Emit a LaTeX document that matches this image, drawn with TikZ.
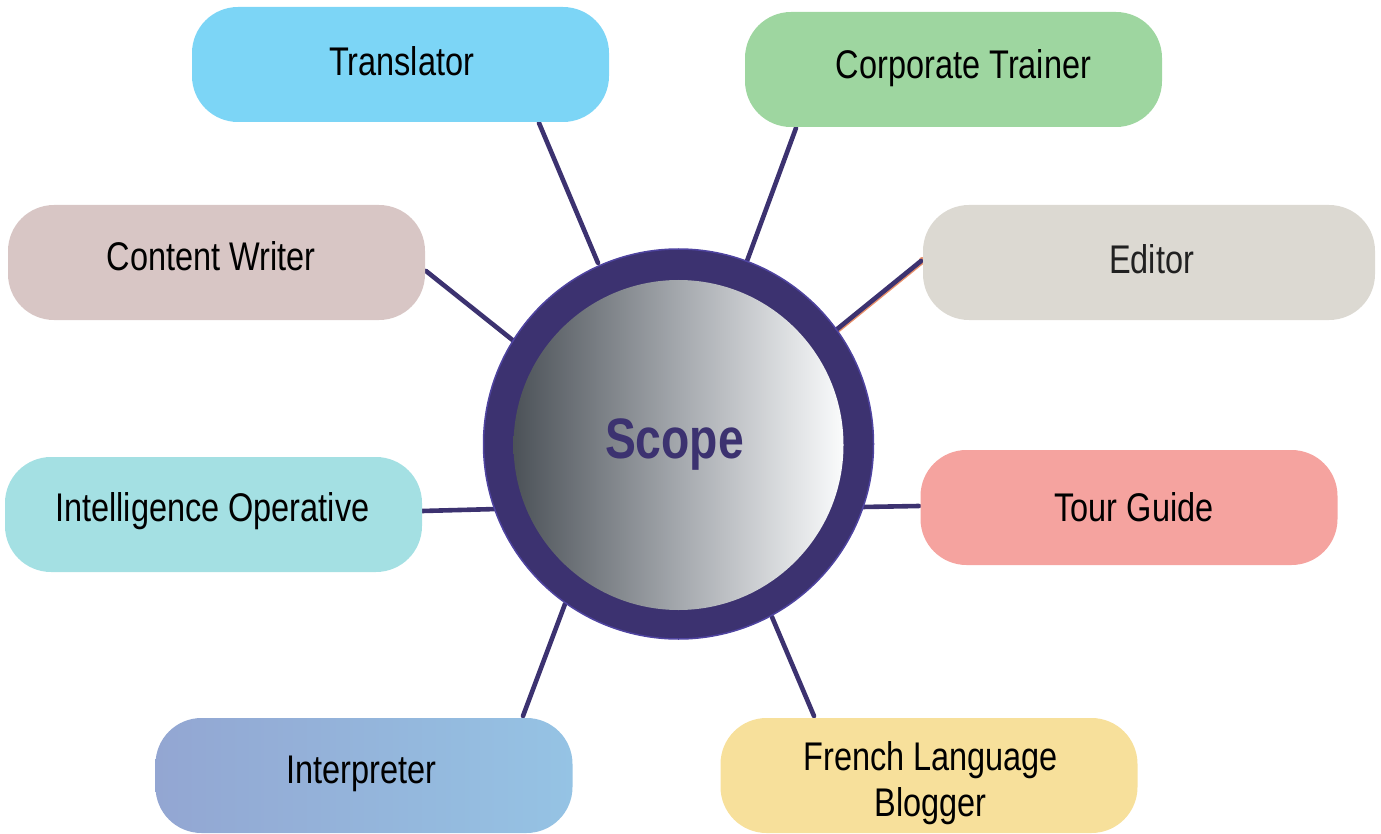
\documentclass[tikz,border=0pt]{standalone}
\usepackage{fontspec}
\setmainfont{Liberation Sans}[FakeStretch=0.812]
\usetikzlibrary{backgrounds}
\definecolor{ink}{HTML}{3C3270}
\definecolor{ringedge}{HTML}{4F44A0}
\definecolor{cTrans}{HTML}{7CD5F6}
\definecolor{cCorp}{HTML}{9ED6A0}
\definecolor{cCont}{HTML}{D8C6C5}
\definecolor{cEdit}{HTML}{DCD9D2}
\definecolor{cIntel}{HTML}{A4E0E3}
\definecolor{cTour}{HTML}{F5A39F}
\definecolor{cInterL}{HTML}{93A6D2}
\definecolor{cInterR}{HTML}{95C3E4}
\definecolor{cBlog}{HTML}{F7E09B}
\definecolor{coreL}{HTML}{4C5258}
\definecolor{coreM}{HTML}{A4A8AD}
\definecolor{coreR}{HTML}{FAFBFC}
\definecolor{spark}{HTML}{E8906A}
\begin{document}
\begin{tikzpicture}[x=1pt,y=-1pt,
  box/.style={rectangle, rounded corners=46pt, minimum width=417pt, minimum height=115pt, inner sep=0pt},
  lab/.style={anchor=base, inner sep=0pt, font=\fontsize{40}{46.7}\selectfont, text=black, align=center},
  link/.style={draw=ink, line width=4.6pt, line cap=round}]
\useasboundingbox (0,0) rectangle (1381,834);

% boxes
\node[box, fill=cTrans] (tr) at (400.5,64.5) {};
\node[box, fill=cCorp] (ct) at (953.5,69.5) {};
\node[box, fill=cCont] (cw) at (216.5,262.5) {};
\node[box, fill=cEdit, minimum width=452pt] (ed) at (1149,262.5) {};
\node[box, fill=cIntel] (io) at (213.5,514.5) {};
\node[box, fill=cTour] (tg) at (1129,507.5) {};
\node[box, left color=cInterL, right color=cInterR] (ip) at (364,775.5) {};
\node[box, fill=cBlog] (fb) at (929,775.5) {};

% labels
\node[lab] (trL) at (401.5,76) {Translator};
\node[lab] (ctL) at (963.5,79) {Corporate Trainer};
\node[lab] (cwL) at (211,270.7) {Content Writer};
\node[lab, text=black!87] (edL) at (1151.5,274) {Editor};
\node[lab] (ioL) at (212.3,521.7) {Intelligence Operative};
\node[lab] (tgL) at (1134,521) {Tour Guide};
\node[lab] (ipL) at (361.7,783.3) {Interpreter};
\node[lab] (fbL1) at (930.8,770) {French Language};
\node[lab] (fbL2) at (930.8,816.7) {Blogger};

% centre
\node[circle, minimum size=390pt, inner sep=0pt, fill=ink, draw=ringedge, line width=1.5pt] (scope) at (678.5,444) {};
\node[circle, minimum size=330pt, inner sep=0pt, left color=coreL, right color=coreR, middle color=coreM] (core) at (678.5,445) {};
\node[anchor=base, inner sep=0pt, text=ink, font=\bfseries\fontsize{57}{60}\selectfont] (lbl) at (674.5,458) {Scope};

% connector end points
\coordinate (trA) at (539,123);  \coordinate (trB) at (598,263);
\coordinate (ctA) at (796,128);  \coordinate (ctB) at (747,261);
\coordinate (cwA) at (426,271);  \coordinate (cwB) at (515,342);
\coordinate (edA) at (921,261);  \coordinate (edB) at (836,330);
\coordinate (ioA) at (422,511);  \coordinate (ioB) at (497,509);
\coordinate (tgA) at (919,506);  \coordinate (tgB) at (862,507);
\coordinate (ipA) at (523,716);  \coordinate (ipB) at (565,604);
\coordinate (fbA) at (814,716);  \coordinate (fbB) at (772,617);

\begin{scope}[on background layer]
  \draw[draw=spark, line width=4.6pt, line cap=round] ([shift={(1,1)}]edA) -- ([shift={(1,1)}]edB);
  \fill[spark] ([shift={(1,-1)}]edA) circle (3pt);
  \draw[link] (trA) -- (trB);
  \draw[link] (ctA) -- (ctB);
  \draw[link] (cwA) -- (cwB);
  \draw[link] (edA) -- (edB);
  \draw[link] (ioA) -- (ioB);
  \draw[link] (tgA) -- (tgB);
  \draw[link] (ipA) -- (ipB);
  \draw[link] (fbA) -- (fbB);
\end{scope}
\end{tikzpicture}
\end{document}
